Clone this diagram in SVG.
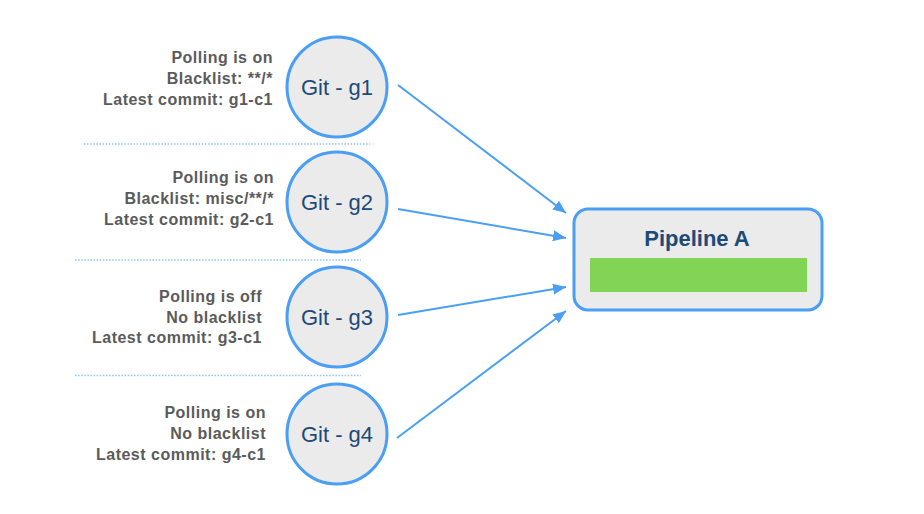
<svg xmlns="http://www.w3.org/2000/svg" width="924" height="514" viewBox="0 0 924 514">
<style>
.info{font-family:"Liberation Sans",Arial,sans-serif;font-weight:bold;font-size:16px;fill:#5b5b5b;text-anchor:end;letter-spacing:0.5px}
.node{fill:#ebebeb;stroke:#4a9ff5;stroke-width:3}
.lbl{font-family:"Liberation Sans",Arial,sans-serif;font-size:22px;fill:#1d4a78;text-anchor:middle}
.sep{stroke:#8ec3f5;stroke-width:1.6;stroke-dasharray:1.5 1.6;fill:none}
.conn{stroke:#4a9ff5;stroke-width:2;fill:none;marker-end:url(#ah)}
</style>
<defs>
<marker id="ah" markerUnits="userSpaceOnUse" markerWidth="14" markerHeight="12" refX="13" refY="5.5" orient="auto">
<path d="M0,0 L13,5.5 L0,11 z" fill="#4a9ff5"/>
</marker>
</defs>
<rect width="924" height="514" fill="#ffffff"/>
<g id="separators">
<line class="sep" x1="84" y1="144" x2="370" y2="144"/>
<line class="sep" x1="75" y1="260" x2="361" y2="260"/>
<line class="sep" x1="75" y1="375.5" x2="361" y2="375.5"/>
</g>
<g id="connectors">
<line class="conn" x1="398" y1="85" x2="566" y2="213"/>
<line class="conn" x1="398" y1="209" x2="566" y2="238"/>
<line class="conn" x1="398" y1="315" x2="566" y2="287"/>
<line class="conn" x1="397" y1="438" x2="566" y2="311"/>
</g>
<g id="g1">
<text class="info" x="273" y="63">Polling is on</text>
<text class="info" x="273" y="84">Blacklist: **/*</text>
<text class="info" x="273" y="105">Latest commit: g1-c1</text>
<circle class="node" cx="337" cy="87" r="50"/>
<text class="lbl" x="337" y="95">Git - g1</text>
</g>
<g id="g2">
<text class="info" x="274" y="183">Polling is on</text>
<text class="info" x="274" y="204">Blacklist: misc/**/*</text>
<text class="info" x="274" y="225">Latest commit: g2-c1</text>
<circle class="node" cx="337" cy="202" r="50"/>
<text class="lbl" x="337" y="210">Git - g2</text>
</g>
<g id="g3">
<text class="info" x="262" y="302">Polling is off</text>
<text class="info" x="262" y="323">No blacklist</text>
<text class="info" x="262" y="343">Latest commit: g3-c1</text>
<circle class="node" cx="337" cy="317" r="50"/>
<text class="lbl" x="337" y="325">Git - g3</text>
</g>
<g id="g4">
<text class="info" x="266" y="418">Polling is on</text>
<text class="info" x="266" y="439">No blacklist</text>
<text class="info" x="266" y="460">Latest commit: g4-c1</text>
<circle class="node" cx="337" cy="434" r="50"/>
<text class="lbl" x="337" y="442">Git - g4</text>
</g>
<g id="pipelineA">
<rect x="574" y="209" width="248" height="101" rx="14" ry="14" fill="#ebebeb" stroke="#4a9ff5" stroke-width="3"/>
<text x="697" y="246" font-family="Liberation Sans,Arial,sans-serif" font-weight="bold" font-size="22" fill="#1d4a78" text-anchor="middle">Pipeline A</text>
<rect x="590" y="258" width="217" height="34" fill="#82d455"/>
</g>
</svg>
